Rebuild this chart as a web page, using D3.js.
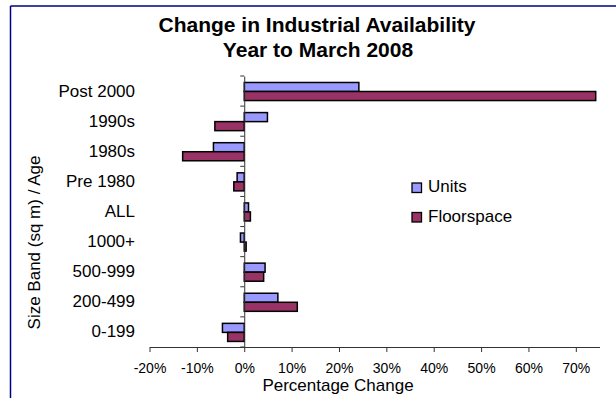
<!DOCTYPE html>
<html><head><meta charset="utf-8">
<script src="https://cdn.jsdelivr.net/npm/d3@7"></script>
<style>body{margin:0;background:#fff}svg{display:block}text{font-family:"Liberation Sans",Arial,sans-serif}</style>
</head><body>
<script>
const categories = ["Post 2000","1990s","1980s","Pre 1980","ALL","1000+","500-999","200-499","0-199"];
const seriesNames = ["Units","Floorspace"];
const units = [24.2, 4.9, -6.5, -1.5, 0.9, -0.8, 4.4, 7.1, -4.6];
const floorspace = [74.2, -6.2, -13.0, -2.2, 1.3, 0.4, 4.1, 11.2, -3.5];
const xTicks = [-20,-10,0,10,20,30,40,50,60,70];
const colors = ["#9999FF","#993366"];

const W=616,H=398;
const svg=d3.select("body").append("svg").attr("width",W).attr("height",H);
// frame
svg.append("line").attr("x1",10.5).attr("x2",W).attr("y1",6).attr("y2",6).attr("stroke","#000080").attr("stroke-width",1.5);
svg.append("line").attr("x1",10.5).attr("x2",10.5).attr("y1",6).attr("y2",H).attr("stroke","#000080").attr("stroke-width",1.5);

const x=d3.scaleLinear().domain([-20,75]).range([149.5,599.5]);
const y=d3.scaleBand().domain(categories).range([76,347]);
const inner=d3.scaleBand().domain(seriesNames).range([y.bandwidth()*0.215, y.bandwidth()*0.815]);

const data=[units,floorspace];
seriesNames.forEach((s,si)=>{
  svg.append("g").selectAll("rect").data(categories).join("rect")
    .attr("x",(c,i)=>x(Math.min(0,data[si][i])))
    .attr("width",(c,i)=>Math.abs(x(data[si][i])-x(0)))
    .attr("y",c=>y(c)+inner(s))
    .attr("height",inner.bandwidth())
    .attr("fill",colors[si]).attr("stroke","#000").attr("stroke-width",1.5);
});

// x axis
const xa=svg.append("g").attr("transform","translate(0,347)")
  .call(d3.axisBottom(x).tickValues(xTicks).tickFormat(d=>d+"%").tickSize(5).tickSizeOuter(0));
xa.select(".domain").attr("stroke","#333");
xa.selectAll(".tick line").attr("stroke","#333");
xa.selectAll("text").attr("font-size",14).attr("fill","#000").attr("y",25.5).attr("dy",0);

// y axis at zero
const ya=svg.append("g").attr("transform",`translate(${x(0)},0)`)
  .call(d3.axisLeft(y).tickSize(0).tickFormat(""));
ya.select(".domain").attr("stroke","#333");
const bandTicks=categories.map(c=>y(c)).concat([y.range()[1]]);
svg.append("g").selectAll("line").data(bandTicks).join("line")
  .attr("x1",x(0)-4).attr("x2",x(0)).attr("y1",d=>d).attr("y2",d=>d).attr("stroke","#333");

// category labels
svg.append("g").selectAll("text").data(categories).join("text")
  .attr("x",135).attr("y",c=>y(c)+y.bandwidth()/2+5.5)
  .attr("text-anchor","end").attr("font-size",17).text(c=>c);

// titles
svg.append("text").attr("x",317).attr("y",31.5).attr("text-anchor","middle").attr("font-size",21).attr("font-weight","bold").text("Change in Industrial Availability");
svg.append("text").attr("x",318).attr("y",57).attr("text-anchor","middle").attr("font-size",21).attr("font-weight","bold").text("Year to March 2008");
svg.append("text").attr("x",338).attr("y",391).attr("text-anchor","middle").attr("font-size",17).text("Percentage Change");
svg.append("text").attr("transform","translate(39.5,242.5) rotate(-90)").attr("text-anchor","middle").attr("font-size",17).text("Size Band (sq m) / Age");

// legend
const lg=svg.append("g");
seriesNames.forEach((s,i)=>{
  const ly=187.5+i*29.5;
  lg.append("rect").attr("x",412).attr("y",ly-4.5).attr("width",9.5).attr("height",9.5).attr("fill",colors[i]).attr("stroke","#000").attr("stroke-width",1.3);
  lg.append("text").attr("x",428).attr("y",ly+4.5).attr("font-size",17).text(s);
});
</script>
</body></html>
